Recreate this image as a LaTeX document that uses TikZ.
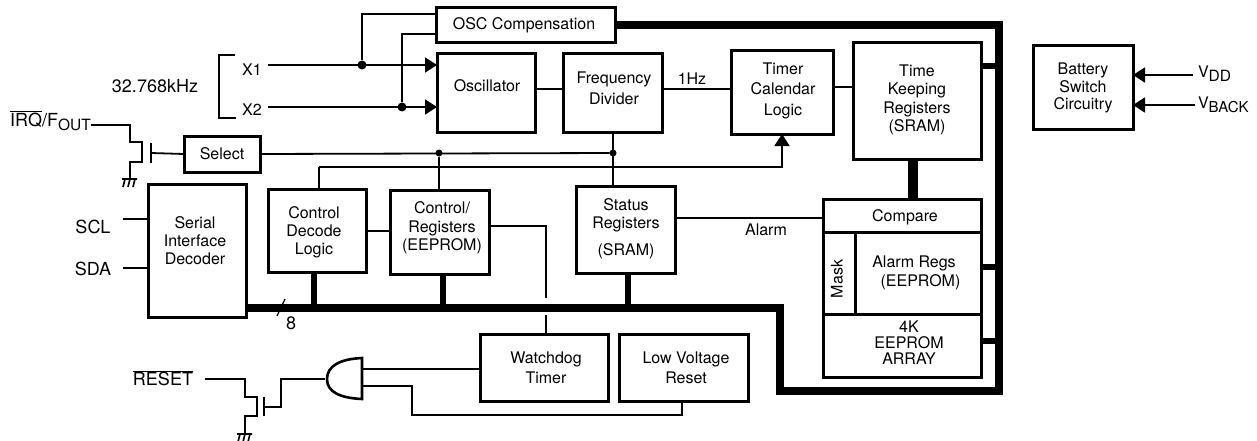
\documentclass[tikz,border=0pt]{standalone}
\usepackage{fontspec}
\setmainfont{TeX Gyre Heros}
\usetikzlibrary{arrows.meta,calc}
\newcommand\blk[5]{\node[box,minimum width={(#4-#2)*1pt},minimum height={(#5-#3)*1pt}] (#1) at ({(#2+#4)/2},{(#3+#5)/2}) {};}
\newcommand\ovl[1]{$\overline{\hbox{#1}}$}
\newcommand\subt[2]{\raisebox{-4pt}{\fontsize{#1}{16}\selectfont #2}}
\tikzset{
  box/.style={draw=black,line width=3pt,inner sep=0pt,outer sep=0pt,rectangle,fill=none},
  txt/.style={inner sep=0pt,outer sep=0pt,align=center,font=\fontsize{16}{#1}\selectfont},
  txt/.default=18,
  big/.style={inner sep=0pt,outer sep=0pt,align=center,font=\fontsize{18}{20}\selectfont},
  wire/.style={line width=1.8pt,draw=black,line join=miter},
  wirea/.style={wire,-{Triangle[length=12pt,width=15pt]}},
  mid/.style={line width=2.6pt,draw=black},
  bus/.style={line width=7.5pt,draw=black,line join=miter},
  stub/.style={line width=6.5pt,draw=black},
  dotb/.style={circle,fill=black,inner sep=0pt,outer sep=0pt,minimum size=9pt},
  dots/.style={circle,fill=black,inner sep=0pt,outer sep=0pt,minimum size=7pt},
  gnd/.pic={\draw[line width=1.6pt] (-8,0) -- (7,0) (-5,0) -- (-7,8) (0,0) -- (-2,8) (5,0) -- (3,8);}
}
\begin{document}
\begin{tikzpicture}[x=1pt,y=-1pt]
\useasboundingbox (0,0) rectangle (1257,441);
% blocks
\blk{osccomp}{436}{8}{615}{43}
\blk{osc}{437}{54}{535}{132}
\blk{freq}{563}{54}{662}{132}
\blk{timer}{731}{51}{833}{134}
\blk{tk}{853}{43}{981}{159}
\blk{batt}{1033}{46}{1133}{129}
\blk{sel}{184}{136}{260}{172}
\blk{serial}{148}{184}{246}{317}
\blk{ctldec}{268}{189}{366}{272}
\blk{ctlreg}{390}{190}{489}{274}
\blk{status}{576}{186}{675}{273}
\blk{cmp}{823}{199}{981}{232}
\blk{maskb}{823}{232}{855}{314}
\blk{alarm}{855}{232}{981}{314}
\blk{eep}{823}{314}{981}{377}
\blk{wdt}{480}{334}{608}{401}
\blk{lvr}{619}{334}{748}{401}
% block texts
\node[txt] (osccomp-t) at (524,25) {OSC Compensation};
\node[txt] (osc-t) at (487,86) {Oscillator};
\node[txt=20.7] (freq-t) at (614,88.5) {Frequency\\Divider};
\node[txt=20.5] (timer-t) at (783,90.5) {Timer\\Calendar\\Logic};
\node[txt=18.5] (tk-t) at (917,100) {Time\\Keeping\\Registers\\(SRAM)};
\node[txt=17.5] (batt-t) at (1083,88) {Battery\\Switch\\Circuitry};
\node[txt] (sel-t) at (222,153.5) {Select};
\node[txt=18] (serial-t) at (195,241) {Serial\\Interface\\Decoder};
\node[txt=18] (ctldec-t) at (314,232) {Control\\Decode\\Logic};
\node[txt=18.5] (ctlreg-t) at (442,228) {Control/\\Registers\\(EEPROM)};
\node[txt=18] (status-t) at (626,228.5) {Status\\Registers\\[9pt](SRAM)};
\node[txt] (cmp-t) at (905,217) {Compare};
\node[txt,rotate=90] (mask-t) at (837,279) {Mask};
\node[txt=19,anchor=west,align=left] (alarm-t) at (872.3,272.5) {Alarm Regs\\\hspace*{8.3pt}(EEPROM)};
\node[txt=16] (eep-t) at (909,343) {4K\\EEPROM\\ARRAY};
\node[txt=20] (wdt-t) at (546,367.5) {Watchdog\\Timer};
\node[txt=20] (lvr-t) at (686,367.5) {Low Voltage\\Reset};
% free labels
\node[big] (khz) at (155,86) {32.768kHz};
\node[txt] (x1) at (252,69.5) {X1};
\node[txt] (x2) at (252,110) {X2};
\node[big,anchor=base west] (irq) at (10,126) {\ovl{IRQ}/F\subt{15.5}{OUT}};
\node[big] (scl) at (93,227) {SCL};
\node[big] (sda) at (93,268.5) {SDA};
\node[big] (eight) at (291,323) {8};
\node[txt] (hz) at (692,79) {1Hz};
\node[txt] (alarmlbl) at (766,230) {Alarm};
\node[big] (reset) at (163,378) {\ovl{RESET}};
\node[txt,anchor=base west] (vdd) at (1198,78) {V\subt{15.5}{DD}};
\node[txt,anchor=base west] (vback) at (1198,109) {V\subt{15}{BACK}};
% free ends and junctions
\coordinate (x1s) at (268,65);
\coordinate (x2s) at (268,107);
\node[dotb] (j1) at (362,65) {};
\node[dotb] (j2) at (402,107) {};
\node[dots] (j3) at (439,153) {};
\node[dots] (j4) at (613,153) {};
% crystal bracket
\draw[wire] (235,55) -- (219,55) -- (219,118) -- (236,118);
% crystal inputs
\draw[wirea] (x1s) -- (osc.west |- x1s);
\draw[wirea] (x2s) -- (osc.west |- x2s);
\draw[wire] (j1) |- (osccomp.west |- 0,14);
\draw[wire] (j2) |- (osccomp.west |- 0,34);
% clock path
\draw[mid] (osc.east |- 0,89) -- (freq.west |- 0,89);
\draw[wire] (freq.east |- 0,89) -- (timer.west |- 0,89);
\draw[mid] (timer.east |- 0,87) -- (tk.west |- 0,87);
% select lines
\draw[wire] (sel.east) -- (j4);
\draw[wire] (j3) -- (j3 |- ctlreg.north);
\draw[wire] (freq.south -| j4) -- (status.north -| j4);
\coordinate (s1) at (319,167);
\draw[wire] (ctldec.north -| s1) -- (s1);
\draw[wirea] (s1) -| (timer.south);
% data links
\draw[wire] (ctldec.east |- 0,231) -- (ctlreg.west |- 0,231);
\coordinate (w1) at (546,298);
\coordinate (w2) at (546,315);
\draw[wire] (ctlreg.east |- 0,226) -| (w1);
\draw[wire] (w2) -- (w2 |- wdt.north);
\draw[wire] (status.east |- 0,218) -- (cmp.west |- 0,218);
\coordinate (sc) at (123,219);
\coordinate (sd) at (123,268);
\draw[wire] (sc) -- (sc -| serial.west);
\draw[wire] (sd) -- (sd -| serial.west);
% bus
\coordinate (b1) at (780,308);
\coordinate (b2) at (780,391);
\coordinate (b3) at (999,391);
\coordinate (b4) at (999,25);
\draw[bus] (serial.east |- b1) -- (b1) -- (b2) -- (b3) -- (b4) -- (osccomp.east |- b4);
\draw[stub] (ctldec.south -| 314,0) -- (314,308);
\draw[stub] (ctlreg.south -| 443,0) -- (443,308);
\draw[stub] (status.south -| 628,0) -- (628,308);
\draw[line width=10pt] (tk.south -| 913,0) -- (cmp.north -| 913,0);
\draw[stub] (tk.east |- 0,66) -- (b4 |- 0,66);
\draw[stub] (alarm.east |- 0,267) -- (b4 |- 0,267);
\draw[stub] (eep.east |- 0,341) -- (b4 |- 0,341);
\draw[line width=1.2pt] (285,299) -- (277,316);
% battery inputs
\coordinate (vd) at (1193,75);
\coordinate (vb) at (1195,105);
\draw[wirea] (vd) -- (vd -| batt.east);
\draw[wirea] (vb) -- (vb -| batt.east);
% IRQ open-drain transistor
\coordinate (q1g) at (151,153);
\draw[wire] (91,125) -| (130,142) -| (142,162) -| (130,179);
\draw[wire] (151,143) -- (151,163);
\draw[wire] (q1g) -- (sel.west);
\pic at (130,179) {gnd};
% RESET transistor
\coordinate (q2g) at (264,407);
\coordinate (ag) at (325,379);
\draw[wire] (205,379) -| (245,397) -| (257,416) -| (245,434);
\draw[wire] (264,397) -- (264,416);
\draw[wire] (q2g) -| (281,379) -- (ag);
\pic at (245,434) {gnd};
% AND gate
\draw[line width=2.6pt,line join=miter] (362,358) -- (362,399) .. controls (340,398) and (327,392) .. (327,379) .. controls (327,366) and (340,359) .. (362,358) -- cycle;
\draw[wire] (362,369) -- (wdt.west |- 0,369);
\draw[wire] (362,386) -| (412,415) -| (682,401);
\end{tikzpicture}
\end{document}
